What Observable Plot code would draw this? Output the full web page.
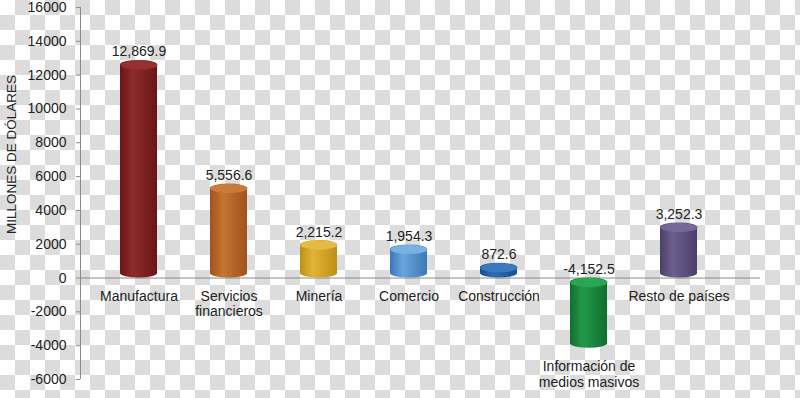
<!DOCTYPE html>
<html><head><meta charset="utf-8">
<script src="https://cdn.jsdelivr.net/npm/d3@7"></script>
<script src="https://cdn.jsdelivr.net/npm/@observablehq/plot@0.6"></script>
<style>
html,body{margin:0;padding:0;}
body{width:800px;height:398px;overflow:hidden;background-color:#fff;
background-image:conic-gradient(#dcdcdc 25%, #ffffff 0 50%, #dcdcdc 0 75%, #ffffff 0);
background-size:30px 30px;font-family:"Liberation Sans",Arial,sans-serif;}
#chart svg{display:block;}
</style></head>
<body><div id="chart"></div>
<script>
const categories = ["Manufactura", "Servicios\nfinancieros", "Minería", "Comercio", "Construcción", "Información de\nmedios masivos", "Resto de países"];
const values = [12869.9, 5556.6, 2215.2, 1954.3, 872.6, -4152.5, 3252.3];
const yTicks = [-6000, -4000, -2000, 0, 2000, 4000, 6000, 8000, 10000, 12000, 14000, 16000];
const yLabel = "MILLONES DE DÓLARES";
const darkColors = ["#6a1616", "#a0531b", "#c08f16", "#3b78b8", "#184f8f", "#0f7030", "#4a406a"];
const lightColors = ["#8e2b2b", "#c47533", "#e0b437", "#6ba4dc", "#2f6db2", "#24994a", "#6c5f8f"];
const topColors = ["#97312f", "#c97c3a", "#e5bb44", "#7ab0e2", "#3a79bd", "#2ba552", "#75699a"];

const fmt = d3.formatLocale({decimal: ".", thousands: ",", grouping: [3], currency: ["$", ""], minus: "-"}).format(",.1f");
const rows = categories.map((c, i) => ({cat: c, value: values[i], label: fmt(values[i]), i}));

// elliptical cap symbol for cylinder tops
const ellipse = {
  draw(ctx) {
    const rx = 18.5, ry = 4.5, k = 0.5523;
    ctx.moveTo(rx, 0);
    ctx.bezierCurveTo(rx, ry * k, rx * k, ry, 0, ry);
    ctx.bezierCurveTo(-rx * k, ry, -rx, ry * k, -rx, 0);
    ctx.bezierCurveTo(-rx, -ry * k, -rx * k, -ry, 0, -ry);
    ctx.bezierCurveTo(rx * k, -ry, rx, -ry * k, rx, 0);
    ctx.closePath();
  }
};

const font = "Liberation Sans, Arial, sans-serif";
const plot = Plot.plot({
  width: 800, height: 398,
  marginLeft: 80, marginRight: 40, marginTop: 7, marginBottom: 19,
  style: {background: "transparent", fontFamily: font, fontSize: "14px", color: "#222"},
  x: {domain: categories, paddingInner: 0.59, paddingOuter: 0.426, insetRight: 24, axis: null},
  y: {domain: [-6000, 16000]},
  color: {type: "identity"},
  marks: [
    Plot.axisY({ticks: yTicks, tickSize: 4, tickPadding: 10, tickFormat: d => String(d), stroke: "#8a8a8a", label: null, fontSize: 14}),
    Plot.ruleY([0], {stroke: "#8a8a8a"}),
    Plot.barY(rows, {x: "cat", y: "value", fill: d => `url(#cyl${d.i})`, rx: 18.5, ry: 4.5}),
    Plot.dot(rows, {x: "cat", y: d => Math.max(d.value, 0), symbol: ellipse, fill: d => topColors[d.i], stroke: null, dy: 4.5}),
    Plot.text(rows, {x: "cat", y: d => Math.max(d.value, 0), text: "label", lineAnchor: "bottom", dy: -4, fill: "#222", fontSize: 14}),
    Plot.text(rows, {x: "cat", y: d => Math.min(d.value, 0), text: "cat", lineAnchor: "top", dy: 12, lineHeight: 1.1, fill: "#222", fontSize: 14}),
    Plot.text([yLabel], {frameAnchor: "left", textAnchor: "middle", rotate: -90, dx: -69, dy: -39, fill: "#222", fontSize: 13.5})
  ]
});

// gradients for cylinder shading + vertical axis line
const svg = d3.select(plot);
const defs = svg.insert("defs", ":first-child");
darkColors.forEach((dc, i) => {
  const g = defs.append("linearGradient").attr("id", `cyl${i}`).attr("x1", "0").attr("x2", "1").attr("y1", "0").attr("y2", "0");
  g.append("stop").attr("offset", "0%").attr("stop-color", dc);
  g.append("stop").attr("offset", "35%").attr("stop-color", lightColors[i]);
  g.append("stop").attr("offset", "100%").attr("stop-color", dc);
});
const ys = plot.scale("y");
svg.append("line")
  .attr("x1", 80.5).attr("x2", 80.5)
  .attr("y1", ys.apply(16000)).attr("y2", ys.apply(-6000))
  .attr("stroke", "#8a8a8a");

document.getElementById("chart").appendChild(plot);
</script>
</body></html>
